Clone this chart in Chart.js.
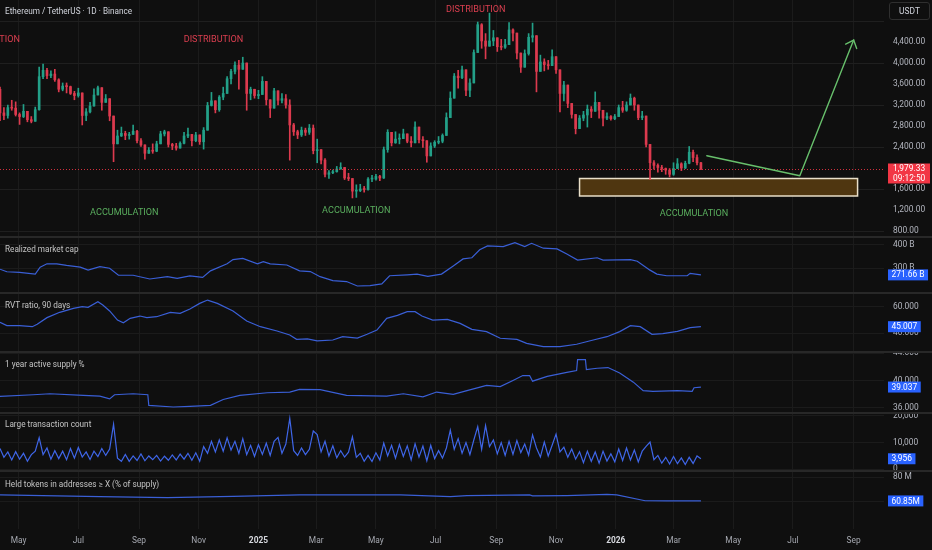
<!DOCTYPE html>
<html>
<head>
<meta charset="utf-8">
<title>Ethereum / TetherUS · 1D · Binance</title>
<script src="https://cdn.jsdelivr.net/npm/chart.js@4.4.1/dist/chart.umd.min.js"></script>
<style>
  html, body { margin:0; padding:0; background:#0f0f0f; }
  #wrap { position:relative; width:932px; height:550px; overflow:hidden; background:#0f0f0f; font-family: Roboto, "Liberation Sans", sans-serif; }
  #wrap canvas { position:absolute; left:0; }
  .sep { position:absolute; left:0; width:932px; height:2px; background:#282828; z-index:3; }
  .ttl { position:absolute; left:5px; height:10px; line-height:10px; font-size:8.2px; color:#c4c4c4; white-space:nowrap; z-index:4; }
  #usdt { position:absolute; left:889px; top:2px; width:41px; height:18px; box-sizing:border-box; border:1px solid #2f2f2f; border-radius:3px; color:#d1d4dc; font-size:8.4px; line-height:16px; text-align:center; z-index:4; }
</style>
</head>
<body>
<div id="wrap">
  <canvas id="cMain" width="932" height="237" style="top:0px"></canvas>
  <canvas id="cRmc" width="932" height="56" style="top:237px"></canvas>
  <canvas id="cRvt" width="932" height="59" style="top:293px"></canvas>
  <canvas id="cAs" width="932" height="61" style="top:352px"></canvas>
  <canvas id="cLtc" width="932" height="58" style="top:413px"></canvas>
  <canvas id="cHt" width="932" height="79" style="top:471px"></canvas>
  <div class="sep" style="top:236px"></div>
  <div class="sep" style="top:292px"></div>
  <div class="sep" style="top:351px"></div>
  <div class="sep" style="top:412px"></div>
  <div class="sep" style="top:470px"></div>
  <div class="ttl" style="top:6px;color:#d1d4dc">Ethereum / TetherUS · 1D · Binance</div>
  <div class="ttl" style="top:244px">Realized market cap</div>
  <div class="ttl" style="top:300px">RVT ratio, 90 days</div>
  <div class="ttl" style="top:359px">1 year active supply %</div>
  <div class="ttl" style="top:419px">Large transaction count</div>
  <div class="ttl" style="top:479px">Held tokens in addresses ≥ X (% of supply)</div>
  <div id="usdt">USDT</div>
</div>
<script>
// ---------------- DATA ----------------
// time axis: day offsets from 2024-04-12
const timeTickDays   = [19, 80, 142, 203, 264, 323, 384, 445, 507, 568, 629, 688, 749, 810, 872];
const timeTickLabels = ['May','Jul','Sep','Nov','2025','Mar','May','Jul','Sep','Nov','2026','Mar','May','Jul','Sep'];

// price candles (one candle per 4 days, open = previous close)
const candleStepDays = 4;
const firstOpen = 3500;
const closes = [
  3050,3000,3150,3140,3020,2980,3080,2920,2890,3110,
  3740,3860,3760,3790,3680,3500,3560,3550,3420,3380,
  3430,3000,3070,3180,3390,3530,3250,3320,2990,2460,
  2610,2660,2620,2640,2700,2520,2440,2280,2340,2320,
  2460,2650,2690,2450,2420,2380,2470,2610,2640,2520,
  2630,2500,2720,3190,3280,3110,3350,3420,3700,3840,
  3960,3880,4000,3420,3500,3380,3400,3650,3300,3140,
  3470,3290,3320,3200,2820,2690,2630,2720,2680,2760,
  2330,2350,2150,1880,1910,1930,1980,2010,1810,1800,
  1560,1570,1600,1590,1790,1790,1840,1810,2350,2680,
  2480,2550,2560,2650,2510,2480,2780,2540,2520,2230,
  2420,2490,2510,2620,2960,3330,3750,3720,3870,3480,
  3620,4200,4730,4420,4320,4420,4480,4310,4300,4350,
  4630,4570,4190,3920,4180,4490,4520,3840,4020,3970,
  3950,4120,3870,3420,3580,3230,3020,2750,2950,3010,
  3120,3080,3250,3100,2950,2980,2940,2980,3150,3100,
  3200,3330,3200,2960,2990,2450,2100,2050,2010,1990,
  1960,1880,1990,2080,2000,2090,2300,2200,2100,1979.33
];
const highs = [
  3540,3150,3200,3290,3260,3050,3210,3050,2980,3160,
  3920,3980,3900,3850,3880,3700,3620,3620,3560,3460,
  3520,3380,3130,3250,3510,3560,3480,3400,3250,2900,
  2720,2780,2700,2680,2820,2720,2560,2420,2390,2460,
  2510,2700,2720,2690,2470,2470,2500,2680,2760,2620,
  2680,2600,2770,3250,3440,3250,3380,3540,3740,3880,
  4020,4050,4110,3900,3540,3480,3480,3740,3450,3280,
  3520,3440,3420,3400,3300,2850,2720,2780,2760,2830,
  2820,2550,2290,2180,1950,1960,2030,2100,1990,1900,
  1800,1680,1690,1650,1820,1860,1880,1860,2400,2730,
  2600,2690,2650,2740,2640,2600,2880,2780,2600,2440,
  2480,2520,2600,2650,3050,3450,3800,3860,3940,3850,
  3700,4250,4780,4750,4560,4950,4620,4450,4450,4450,
  4770,4650,4480,4150,4250,4560,4760,4400,4150,4080,
  4050,4250,4100,3700,3650,3580,3220,2990,3000,3080,
  3200,3170,3450,3250,3050,3050,3000,3020,3200,3270,
  3260,3410,3350,3120,3080,2900,2350,2140,2080,2050,
  2000,1990,2100,2180,2100,2130,2410,2340,2250,2110
];
const lows = [
  2900,2920,2950,3100,2990,2830,2960,2880,2860,2900,
  3100,3700,3700,3720,3650,3450,3470,3430,3400,3300,
  3350,2820,2900,3050,3180,3400,3100,3250,2900,2120,
  2510,2600,2540,2550,2660,2480,2410,2170,2280,2280,
  2310,2520,2610,2400,2350,2340,2380,2460,2580,2420,
  2500,2450,2360,2900,3180,3050,3080,3300,3420,3600,
  3790,3500,3880,3100,3300,3330,3320,3550,3200,2960,
  3300,3200,3240,3140,2150,2620,2560,2600,2620,2640,
  2270,2100,2080,1830,1800,1890,1920,1980,1780,1760,
  1430,1440,1550,1540,1580,1740,1770,1760,1800,2300,
  2420,2470,2460,2580,2480,2400,2500,2480,2390,2110,
  2360,2390,2460,2480,2700,3100,3450,3520,3700,3380,
  3360,3700,4250,4280,4080,4380,4330,4220,4250,4280,
  4500,4420,4080,3820,3950,4150,4400,3450,3900,3850,
  3880,3950,3800,3070,3280,3150,2950,2650,2800,2900,
  2780,2960,3150,2950,2800,2920,2910,2920,2980,3060,
  3080,3250,3100,2920,2920,2400,1780,1980,1920,1930,
  1880,1830,1860,1990,1950,1990,2080,2120,2060,1970
];
const priceTicks = [800, 1200, 1600, 2400, 2800, 3200, 3600, 4000, 4400, 4800];
const countdownText = '09:12:50';

// drawn projection path (day, price)
const pathDays   = [722, 817, 872];
const pathPrices = [2234, 1853, 4438];

// Realized market cap (billions)
const rmcDays   = [0,7,20,36,41,48,58,68,82,90,102,112,121,136,153,171,181,194,207,215,232,238,248,263,269,276,293,306,317,327,340,354,365,378,390,398,416,426,437,451,463,473,482,490,498,514,526,536,543,555,569,579,590,610,616,644,651,664,671,681,702,705,716];
const rmcValues = [296,285,282,275,305,319,319,312,305,292,307,300,270,270,254,264,257,267,261,289,319,337,342,319,328,319,314,289,286,264,247,243,224,226,233,268,272,275,265,275,310,340,345,379,396,393,410,393,407,386,383,361,335,345,335,337,330,292,275,268,268,278,271.66];
const rmcTicks  = [300, 400];

// RVT ratio, 90 days
const rvtDays   = [0,7,20,33,38,48,61,75,84,90,100,105,112,120,126,133,143,150,160,174,184,194,204,212,222,238,252,266,283,296,303,314,324,340,350,365,375,385,395,406,416,424,431,442,457,470,482,497,511,528,538,555,572,589,606,620,633,644,654,666,677,692,705,716];
const rvtValues = [48.3,45.8,45.8,45,46.8,51.8,55.8,58.8,60,59.5,63.8,61.3,56.8,50,48,51.3,53,51.8,52.5,55.8,55,58.3,62.5,65,62.5,56.8,49.3,45,41.8,38.8,35.5,35.8,34.3,35,37.5,36.5,39.3,42.5,51.3,53.5,56.3,56.3,53,50,50.5,47.5,43,41.3,36.3,35.5,32.5,30,30,31.8,35,37.5,41.3,45.8,45,39.3,39.8,41.5,44.3,45.007];
const rvtTicks  = [40, 60];

// 1 year active supply %
const asDays   = [0,34,51,85,102,112,117,136,151,152,177,194,215,228,245,273,296,306,327,354,395,412,432,446,463,477,497,511,524,534,541,544,559,579,589,590,598,599,610,621,633,647,657,667,692,707,709,716];
const asValues = [37.66,37.9,38.05,37.8,37.7,37.3,37.9,38.05,37.9,36.34,36.1,36.2,36.35,37.2,37.8,38.2,38.3,38.7,38.65,37.8,37.7,38.05,37.6,38.3,37.95,38.5,39.27,39.1,40,40.73,40.73,39.9,40.6,41.2,41.46,43.07,43.07,41.6,41.8,41.9,41.1,39.76,38.5,38.4,38.5,38.4,38.93,39.037];
const asTicks  = [36, 40, 44];

// Large transaction count (one value per 4 days, same days as candles)
const ltcValues = [
  7800,4500,6500,3500,6600,3800,6000,3000,5500,6800,
  11900,5500,8000,3800,7000,4000,6800,3600,7800,4200,
  8200,4600,6500,3700,6800,4800,7800,5200,7600,16900,
  4200,3000,5600,3000,5000,3300,5800,3200,5000,3600,
  5200,3100,4900,3400,5400,3500,5700,3800,6000,3400,
  6200,3000,8500,6000,10500,6500,11000,6800,11800,7200,
  10500,6000,11500,5500,9000,4800,9200,5600,9800,5200,
  10500,12000,6000,9500,19100,7000,5200,8000,5500,7500,
  14400,13000,6500,10500,5000,8800,4300,7000,4600,6400,
  12200,4500,6000,3000,5200,2900,6200,3500,9800,5000,
  9000,4200,9300,4800,8800,3500,9600,4600,8700,3200,
  9000,4000,7000,4200,8000,14700,7500,11500,6000,10000,
  5500,11000,16000,7500,16400,8500,11000,5800,10000,5200,
  10500,5600,10800,6300,9500,5300,12900,8000,4600,10200,
  5000,9000,13200,6500,8300,4500,7600,3800,6600,2500,
  6800,3000,6500,2300,6800,3100,5800,2800,7600,3300,
  8000,3500,7200,2800,6800,8600,10200,3600,5200,2300,
  4500,2000,4800,2100,4300,1800,4500,2200,5000,3956
];
const ltcTicks = [0, 10000, 20000];

// Held tokens in addresses >= X (millions)
const htDays   = [0,102,171,238,306,375,409,460,477,541,544,579,620,630,659,681,716];
const htValues = [65.7,64.3,63.5,64.6,65.7,65.7,65.7,64.3,65.2,65.7,64.9,65.2,66.2,65.7,61,60.85,60.85];
const htTicks  = [60, 80];

// ---------------- STYLE / HELPERS ----------------
const FONT = 'Roboto, "Liberation Sans", sans-serif';
Chart.defaults.font.family = FONT;
const GRID_V = '#1b1b1b';
const GRID_H = '#1b1b1b';
const AXIS_TXT = '#b2b5be';
const UP = '#23a088', DOWN = '#dc3a4e';
const LINE_BLUE = '#3a5fd6';
const X_MAX = 903;
const isYear = i => /^\d{4}$/.test(timeTickLabels[i] || '');

function timeAxis(show) {
  return {
    type: 'linear', min: 0, max: X_MAX, offset: false,
    grid: { color: GRID_V, drawTicks: false, offset: false, lineWidth: 1 },
    border: { display: false },
    ticks: {
      display: show, autoSkip: false, maxRotation: 0, minRotation: 0, padding: 7,
      color: c => isYear(c.index) ? '#d6d8de' : '#a5a8b0',
      font: c => ({ family: FONT, size: 8.4, weight: isYear(c.index) ? 'bold' : 'normal' }),
      callback: (v, i) => timeTickLabels[i]
    },
    afterBuildTicks: s => { s.ticks = timeTickDays.map(v => ({ value: v })); },
    afterFit: s => { s.height = show ? 21 : 0; s.paddingLeft = 0; s.paddingRight = 0; }
  };
}

function valueAxis(min, max, ticks, fmt, gridColor) {
  return {
    type: 'linear', position: 'right', min: min, max: max,
    grid: { color: gridColor || GRID_H, drawTicks: false, lineWidth: 1 },
    border: { display: false },
    ticks: { autoSkip: false, padding: 9, color: AXIS_TXT, font: { family: FONT, size: 8.4 }, callback: v => fmt(v) },
    afterBuildTicks: s => { s.ticks = ticks.map(v => ({ value: v })); },
    afterFit: s => { s.width = 48; s.paddingTop = 0; s.paddingBottom = 0; }
  };
}

function baseOptions(yAxis, showTime) {
  return {
    responsive: false, animation: false, events: [],
    layout: { padding: 0 },
    plugins: { legend: { display: false }, tooltip: { enabled: false } },
    scales: { x: timeAxis(showTime), y: yAxis }
  };
}

function lastLabel(fmt) {
  return {
    id: 'lastLabel',
    afterDraw(chart) {
      const pts = chart.data.datasets[0].data;
      const v = pts[pts.length - 1].y;
      const y = chart.scales.y.getPixelForValue(v);
      const ctx = chart.ctx;
      const txt = fmt(v);
      ctx.save();
      ctx.font = '8.4px ' + FONT;
      const w = ctx.measureText(txt).width + 7;
      ctx.fillStyle = '#2962ff';
      ctx.fillRect(chart.chartArea.right + 4, y - 5.5, w, 11);
      ctx.fillStyle = '#ffffff';
      ctx.textAlign = 'left';
      ctx.textBaseline = 'middle';
      ctx.fillText(txt, chart.chartArea.right + 7.5, y + 0.5);
      ctx.restore();
    }
  };
}

function indicator(id, days, values, yAxis, fmtLast, showTime, color) {
  return new Chart(document.getElementById(id), {
    type: 'line',
    data: { datasets: [{
      data: days.map((d, i) => ({ x: d, y: values[i] })),
      borderColor: color || LINE_BLUE, borderWidth: 1.2, pointRadius: 0, tension: 0, fill: false
    }] },
    options: baseOptions(yAxis, showTime),
    plugins: [lastLabel(fmtLast)]
  });
}

// ---------------- MAIN PRICE PANE ----------------
const fmtPrice = v => v > 4400 ? '' : v.toLocaleString('en-US', { minimumFractionDigits: 2, maximumFractionDigits: 2 });
const opens = [firstOpen].concat(closes.slice(0, -1));
const candleDays = closes.map((c, i) => i * candleStepDays);
const candleColors = closes.map((c, i) => c >= opens[i] ? UP : DOWN);

const RED_TXT = '#dc3f50', GREEN_TXT = '#5aae5e';
const zoneLabels = [
  { text: 'DISTRIBUTION', day: -10, price: 4438, color: RED_TXT, width: 59.5 },
  { text: 'DISTRIBUTION', day: 218, price: 4438, color: RED_TXT, width: 59.5 },
  { text: 'DISTRIBUTION', day: 486, price: 5010, color: RED_TXT, width: 59.5 },
  { text: 'ACCUMULATION', day: 127, price: 1143, color: GREEN_TXT, width: 68.5 },
  { text: 'ACCUMULATION', day: 364, price: 1181, color: GREEN_TXT, width: 68.5 },
  { text: 'ACCUMULATION', day: 709, price: 1124, color: GREEN_TXT, width: 68.5 }
];
const zoneBox = { dayStart: 592, dayEnd: 876, priceTop: 1800, priceBottom: 1467 };

const mainOverlay = {
  id: 'mainOverlay',
  beforeDatasetsDraw(chart) {
    const { ctx, scales: { x, y } } = chart;
    const x0 = x.getPixelForValue(zoneBox.dayStart), x1 = x.getPixelForValue(zoneBox.dayEnd);
    const y0 = y.getPixelForValue(zoneBox.priceTop), y1 = y.getPixelForValue(zoneBox.priceBottom);
    ctx.save();
    ctx.fillStyle = '#4f3610';
    ctx.fillRect(x0, y0, x1 - x0, y1 - y0);
    ctx.strokeStyle = '#e9dfc9';
    ctx.lineWidth = 1.5;
    ctx.strokeRect(x0, y0, x1 - x0, y1 - y0);
    ctx.restore();
  },
  afterDatasetsDraw(chart) {
    const { ctx, chartArea, scales: { x, y } } = chart;
    const py = y.getPixelForValue(closes[closes.length - 1]);
    ctx.save();
    ctx.strokeStyle = 'rgba(242,54,69,0.85)';
    ctx.lineWidth = 1;
    ctx.setLineDash([1, 2]);
    ctx.beginPath();
    ctx.moveTo(chartArea.left, Math.round(py) + 0.5);
    ctx.lineTo(chartArea.right, Math.round(py) + 0.5);
    ctx.stroke();
    ctx.setLineDash([]);

    ctx.font = '9.5px ' + FONT;
    ctx.textAlign = 'center';
    ctx.textBaseline = 'middle';
    zoneLabels.forEach(l => {
      ctx.fillStyle = l.color;
      ctx.fillText(l.text, x.getPixelForValue(l.day), y.getPixelForValue(l.price), l.width);
    });

    const pts = pathDays.map((d, i) => [x.getPixelForValue(d), y.getPixelForValue(pathPrices[i])]);
    ctx.strokeStyle = '#68c06c';
    ctx.lineWidth = 1.4;
    ctx.lineJoin = 'round';
    ctx.lineCap = 'round';
    ctx.beginPath();
    pts.forEach((p, i) => i ? ctx.lineTo(p[0], p[1]) : ctx.moveTo(p[0], p[1]));
    ctx.stroke();
    const [tx, ty] = pts[pts.length - 1], [sx, sy] = pts[pts.length - 2];
    const ang = Math.atan2(ty - sy, tx - sx);
    const L = 9, a = 0.72;
    ctx.beginPath();
    ctx.moveTo(tx + L * Math.cos(ang + Math.PI - a), ty + L * Math.sin(ang + Math.PI - a));
    ctx.lineTo(tx, ty);
    ctx.lineTo(tx + L * Math.cos(ang + Math.PI + a), ty + L * Math.sin(ang + Math.PI + a));
    ctx.stroke();
    ctx.restore();
  },
  afterDraw(chart) {
    const { ctx, chartArea, scales: { y } } = chart;
    const last = closes[closes.length - 1];
    const py = y.getPixelForValue(last);
    const bx = chartArea.right + 4;
    ctx.save();
    ctx.fillStyle = '#f23645';
    ctx.fillRect(bx, py - 5.6, 42, 20);
    ctx.fillStyle = '#ffffff';
    ctx.font = '8.4px ' + FONT;
    ctx.textAlign = 'left';
    ctx.textBaseline = 'middle';
    ctx.fillText(fmtPrice(last), bx + 5, py + 0.2);
    ctx.fillText(countdownText, bx + 5, py + 9.7);
    ctx.restore();
  }
};

new Chart(document.getElementById('cMain'), {
  type: 'bar',
  data: { datasets: [
    { data: candleDays.map((d, i) => ({ x: d, y: [Math.min(lows[i], opens[i], closes[i]), Math.max(highs[i], opens[i], closes[i])] })),
      backgroundColor: candleColors, barThickness: 1, grouped: false, order: 2 },
    { data: candleDays.map((d, i) => ({ x: d, y: [opens[i], closes[i]] })),
      backgroundColor: candleColors, barThickness: 2, grouped: false, minBarLength: 1, order: 1 }
  ] },
  options: baseOptions(
    valueAxis(686, 5200, priceTicks, fmtPrice, c => (c.tick && c.tick.value % 800 === 0) ? '#1f1f1f' : 'rgba(0,0,0,0)'),
    false),
  plugins: [mainOverlay]
});

// ---------------- INDICATOR PANES ----------------
indicator('cRmc', rmcDays, rmcValues,
  valueAxis(194, 434, rmcTicks, v => v + ' B'), v => v.toFixed(2) + ' B', false);
indicator('cRvt', rvtDays, rvtValues,
  valueAxis(26, 70.3, rvtTicks, v => v.toFixed(3)), v => v.toFixed(3), false);
indicator('cAs', asDays, asValues,
  valueAxis(35.22, 44.19, asTicks, v => v.toFixed(3)), v => v.toFixed(3), false);
indicator('cLtc', candleDays, ltcValues,
  valueAxis(-640, 21125, ltcTicks, v => v.toLocaleString('en-US')), v => Math.round(v).toLocaleString('en-US'), false, '#3f66e8');
indicator('cHt', htDays, htValues,
  valueAxis(38.1, 85.1, htTicks, v => v + ' M'), v => v.toFixed(2) + 'M', true);
</script>
</body>
</html>
